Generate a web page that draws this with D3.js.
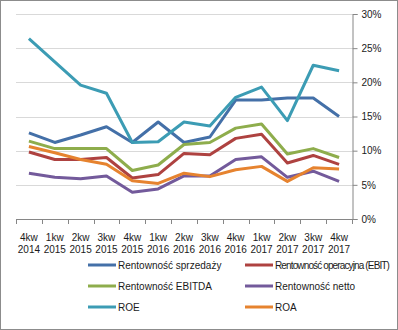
<!DOCTYPE html>
<html>
<head>
<meta charset="utf-8">
<script src="https://cdn.jsdelivr.net/npm/d3@7"></script>
<style>
  body { margin: 0; background: #fff; }
  svg { display: block; font-family: "Liberation Sans", Arial, sans-serif; }
</style>
</head>
<body>
<svg id="chart" width="398" height="330"></svg>
<script>
// quarters on the x axis (two-line labels)
const quarters = ['4kw', '1kw', '2kw', '3kw', '4kw', '1kw', '2kw', '3kw', '4kw', '1kw', '2kw', '3kw', '4kw'];
const years = ['2014', '2015', '2015', '2015', '2015', '2016', '2016', '2016', '2016', '2017', '2017', '2017', '2017'];

// ratios in percent
const sprzedaz = [12.6, 11.2, 12.3, 13.5, 11.2, 14.2, 11.2, 12.0, 17.4, 17.4, 17.7, 17.7, 15.0];
const ebit = [9.8, 8.7, 8.7, 9.0, 6.0, 6.5, 9.6, 9.4, 11.8, 12.4, 8.2, 9.3, 8.0];
const ebitda = [11.4, 10.3, 10.3, 10.3, 7.1, 7.9, 10.9, 11.2, 13.3, 13.9, 9.5, 10.3, 9.0];
const netto = [6.7, 6.1, 5.9, 6.3, 3.9, 4.4, 6.3, 6.3, 8.7, 9.1, 6.1, 7.0, 5.5];
const roe = [26.4, 23.0, 19.6, 18.4, 11.2, 11.3, 14.2, 13.6, 17.8, 19.3, 14.4, 22.5, 21.7];
const roa = [10.6, 9.7, 8.7, 8.0, 5.6, 5.2, 6.7, 6.2, 7.2, 7.7, 5.5, 7.5, 7.3];

const yTicks = [0, 5, 10, 15, 20, 25, 30];

const series = [
  { name: 'Rentowność sprzedaży', values: sprzedaz, color: '#4470A8' },
  { name: 'Rentowność operacyjna (EBIT)', values: ebit, color: '#AE4240' },
  { name: 'Rentowność EBITDA', values: ebitda, color: '#8EAD4C' },
  { name: 'Rentowność netto', values: netto, color: '#735A9B' },
  { name: 'ROE', values: roe, color: '#3C9CB4' },
  { name: 'ROA', values: roa, color: '#E6832F' }
];

const svg = d3.select('#chart');
const W = 398, H = 330;
const fontSize = 10;

// outer frame
svg.append('rect')
  .attr('x', 0.5).attr('y', 0.5)
  .attr('width', W - 1).attr('height', H - 1)
  .attr('fill', '#fff').attr('stroke', '#8c8c8c');

const plot = { left: 16, right: 352, top: 14, bottom: 219 };

const x = d3.scaleBand().domain(d3.range(quarters.length)).range([plot.left, plot.right]);
const y = d3.scaleLinear().domain([0, 30]).range([plot.bottom, plot.top]);

// horizontal gridlines
svg.append('g')
  .selectAll('line')
  .data(yTicks.filter(d => d > 0))
  .join('line')
  .attr('x1', plot.left).attr('x2', plot.right)
  .attr('y1', d => Math.round(y(d)) + 0.5).attr('y2', d => Math.round(y(d)) + 0.5)
  .attr('stroke', '#d9d9d9');

// right-hand percentage axis
const yAxis = svg.append('g')
  .attr('transform', `translate(${plot.right + 0.5},0)`)
  .call(d3.axisRight(y).tickValues(yTicks).tickSize(5).tickPadding(4).tickFormat(d => d + '%'));
yAxis.select('.domain').attr('stroke', '#868686');
yAxis.selectAll('.tick line').attr('stroke', '#868686');
yAxis.selectAll('text').attr('font-size', fontSize).attr('fill', '#1a1a1a')
  .attr('font-family', '"Liberation Sans", Arial, sans-serif');

// bottom axis: ticks on band edges
const xAxis = svg.append('g');
xAxis.append('line')
  .attr('x1', plot.left).attr('x2', plot.right)
  .attr('y1', plot.bottom + 0.5).attr('y2', plot.bottom + 0.5)
  .attr('stroke', '#868686');
xAxis.selectAll('line.tick')
  .data(d3.range(quarters.length + 1))
  .join('line')
  .attr('class', 'tick')
  .attr('x1', i => Math.round(plot.left + i * x.step()) + 0.5)
  .attr('x2', i => Math.round(plot.left + i * x.step()) + 0.5)
  .attr('y1', plot.bottom).attr('y2', plot.bottom + 5)
  .attr('stroke', '#868686');

const labels = xAxis.selectAll('text')
  .data(quarters)
  .join('text')
  .attr('text-anchor', 'middle')
  .attr('font-size', fontSize)
  .attr('fill', '#1a1a1a');
labels.append('tspan')
  .attr('x', (d, i) => x(i) + x.bandwidth() / 2)
  .attr('y', 241)
  .text(d => d);
labels.append('tspan')
  .attr('x', (d, i) => x(i) + x.bandwidth() / 2)
  .attr('y', 253)
  .text((d, i) => years[i]);

// series lines
const line = d3.line()
  .x((d, i) => x(i) + x.bandwidth() / 2)
  .y(d => y(d));

svg.append('g')
  .selectAll('path')
  .data(series)
  .join('path')
  .attr('d', d => line(d.values))
  .attr('fill', 'none')
  .attr('stroke', d => d.color)
  .attr('stroke-width', 3)
  .attr('stroke-linejoin', 'round');

// legend, two columns
const legend = svg.append('g')
  .selectAll('g')
  .data(series)
  .join('g')
  .attr('transform', (d, i) => `translate(${i % 2 ? 245 : 88},${265 + Math.floor(i / 2) * 21})`);
legend.append('line')
  .attr('x1', 0).attr('x2', 28)
  .attr('stroke', d => d.color)
  .attr('stroke-width', 3);
legend.append('text')
  .attr('x', 30)
  .attr('dy', '0.35em')
  .attr('font-size', fontSize)
  .attr('fill', '#1a1a1a')
  .text(d => d.name)
  .each(function (d) {
    // tighten letter spacing on long names so they stay inside the frame
    const maxLen = 114;
    const len = this.getComputedTextLength();
    if (len > maxLen) {
      d3.select(this).attr('letter-spacing', ((maxLen - len) / d.name.length).toFixed(2));
    }
  });
</script>
</body>
</html>
